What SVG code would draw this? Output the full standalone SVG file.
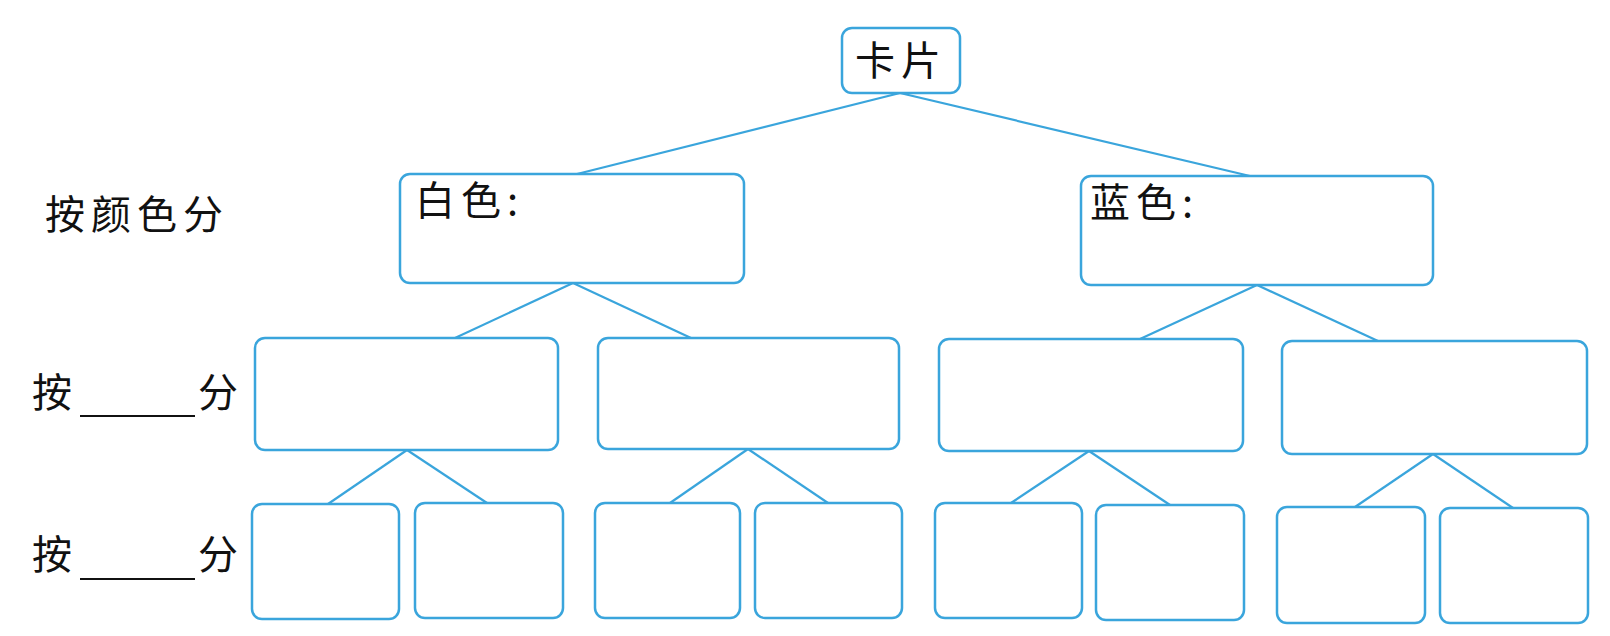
<svg xmlns="http://www.w3.org/2000/svg" width="1610" height="636" viewBox="0 0 1610 636">
<style>
.box{fill:#ffffff;stroke:#3aa5dc;stroke-width:2.5}
.con{stroke:#3aa5dc;stroke-width:2.2;fill:none}
.t{font-family:"Noto Sans CJK SC","Noto Sans CJK JP",sans-serif;font-size:40px;fill:#111111;letter-spacing:6px}
.ul{stroke:#111111;stroke-width:2}
</style>
<rect width="1610" height="636" fill="#ffffff"/>
<g id="connectors">
<line class="con" x1="900" y1="93" x2="577" y2="174"/>
<line class="con" x1="900" y1="93" x2="1250" y2="176"/>
<line class="con" x1="573" y1="283" x2="455" y2="338"/>
<line class="con" x1="573" y1="283" x2="691" y2="338"/>
<line class="con" x1="1257" y1="285" x2="1140" y2="339"/>
<line class="con" x1="1257" y1="285" x2="1378" y2="341"/>
<line class="con" x1="407" y1="450" x2="328" y2="504"/>
<line class="con" x1="407" y1="450" x2="487" y2="503"/>
<line class="con" x1="748" y1="449" x2="670" y2="503"/>
<line class="con" x1="748" y1="449" x2="828" y2="503"/>
<line class="con" x1="1089" y1="451" x2="1011" y2="503"/>
<line class="con" x1="1089" y1="451" x2="1170" y2="505"/>
<line class="con" x1="1433" y1="454" x2="1355" y2="507"/>
<line class="con" x1="1433" y1="454" x2="1513" y2="508"/>
</g>
<g id="labels">
<text class="t" x="45" y="229">按颜色分</text>
<text class="t" x="32" y="407">按</text>
<line class="ul" x1="80" y1="416" x2="195" y2="416"/>
<text class="t" x="198" y="407">分</text>
<text class="t" x="32" y="569">按</text>
<line class="ul" x1="80" y1="579" x2="195" y2="579"/>
<text class="t" x="198" y="569">分</text>
</g>
<g id="card">
<rect class="box" x="842" y="28" width="118" height="65" rx="10"/>
<text class="t" x="855" y="75">卡片</text>
</g>
<g id="white">
<rect class="box" x="400" y="174" width="344" height="109" rx="10"/>
<text class="t" x="415" y="215">白色:</text>
</g>
<g id="blue">
<rect class="box" x="1081" y="176" width="352" height="109" rx="10"/>
<text class="t" x="1090" y="217">蓝色:</text>
</g>
<g id="w1"><rect class="box" x="255" y="338" width="303" height="112" rx="10"/></g>
<g id="w2"><rect class="box" x="598" y="338" width="301" height="111" rx="10"/></g>
<g id="b1"><rect class="box" x="939" y="339" width="304" height="112" rx="10"/></g>
<g id="b2"><rect class="box" x="1282" y="341" width="305" height="113" rx="10"/></g>
<g id="w1a"><rect class="box" x="252" y="504" width="147" height="115" rx="10"/></g>
<g id="w1b"><rect class="box" x="415" y="503" width="148" height="115" rx="10"/></g>
<g id="w2a"><rect class="box" x="595" y="503" width="145" height="115" rx="10"/></g>
<g id="w2b"><rect class="box" x="755" y="503" width="147" height="115" rx="10"/></g>
<g id="b1a"><rect class="box" x="935" y="503" width="147" height="115" rx="10"/></g>
<g id="b1b"><rect class="box" x="1096" y="505" width="148" height="115" rx="10"/></g>
<g id="b2a"><rect class="box" x="1277" y="507" width="148" height="116" rx="10"/></g>
<g id="b2b"><rect class="box" x="1440" y="508" width="148" height="115" rx="10"/></g>
</svg>
